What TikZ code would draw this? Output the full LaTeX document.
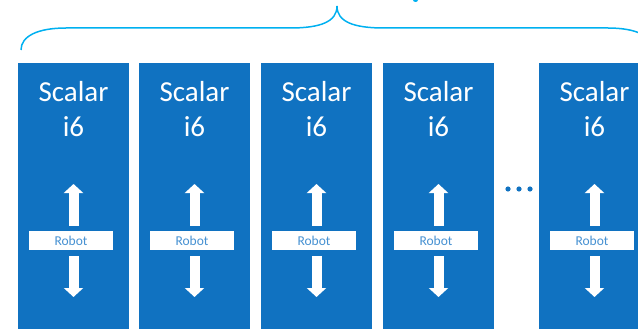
\documentclass[tikz,border=0pt]{standalone}
\usepackage{fontspec}
\setmainfont{Carlito}
\usetikzlibrary{arrows.meta}
\definecolor{boxblue}{RGB}{16,114,193}
\definecolor{bracecyan}{RGB}{0,176,240}
\definecolor{robotblue}{RGB}{70,145,210}
\tikzset{
  colbox/.style={fill=boxblue, draw=none, minimum width=111pt, minimum height=290pt, inner sep=0pt},
  scalartxt/.style={text=white, font=\fontsize{29}{34}\selectfont, inner sep=0pt},
  robotbar/.style={fill=white, draw=none, minimum width=84pt, minimum height=19pt, inner sep=0pt, text=robotblue, font=\fontsize{13.5}{16}\selectfont},
  bigarrow/.style={draw=white, line width=10pt, -{Triangle[width=19pt,length=9pt]}},
  bracestyle/.style={draw=bracecyan, line width=1.5pt},
}
\begin{document}
\begin{tikzpicture}[x=1pt,y=-1pt]
\useasboundingbox (0,0) rectangle (638,329);
\clip (0,0) rectangle (638,329);
% brace
\coordinate (bl) at (21,50);
\coordinate (btip) at (337,6);
\coordinate (br) at (653,50);
\draw[bracestyle] (bl) .. controls (21,36) and (38,28) .. (66,28) -- (290,28)
  .. controls (320,28) and (337,22) .. (btip)
  .. controls (337,22) and (354,28) .. (384,28) -- (608,28)
  .. controls (636,28) and (653,36) .. (br);
\fill[bracecyan] (415.5,0) ellipse (2.5pt and 2pt);
% columns
\foreach \cx [count=\i] in {73.5,194.5,316.5,438.5,594.5} {
  \node[colbox, anchor=north] (col\i) at (\cx,63) {};
  \node[scalartxt, anchor=base] (sa\i) at (\cx,102) {Scalar};
  \node[scalartxt, anchor=base] (sb\i) at (\cx,136) {i6};
  \node[robotbar] (robot\i) at (\cx-2.5,240.5) {Robot};
  \coordinate (upt\i) at (\cx,184);
  \coordinate (dnt\i) at (\cx,297);
  \draw[bigarrow] ([xshift=2.5pt,yshift=5pt]robot\i.north) -- (upt\i);
  \draw[bigarrow] ([xshift=2.5pt,yshift=-6pt]robot\i.south) -- (dnt\i);
}
% dots
\foreach \dx in {508,519,530} {
  \fill[boxblue] (\dx,189) circle (2.6pt);
}
\end{tikzpicture}
\end{document}
